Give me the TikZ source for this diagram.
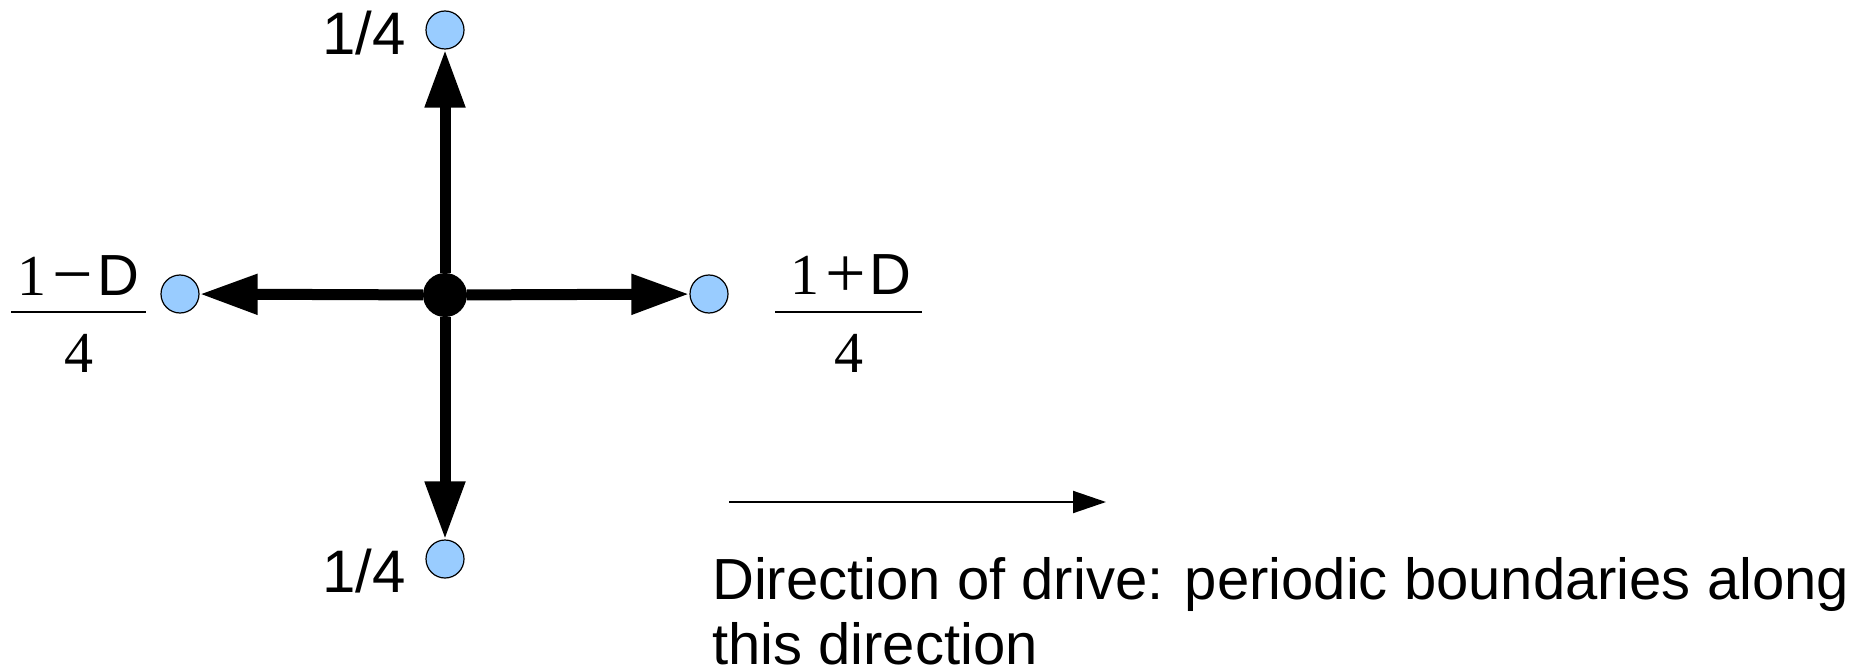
\documentclass[tikz,border=0pt]{standalone}
\usepackage{fontspec}
\setmainfont{Liberation Sans}
\newfontfamily\numfont{Liberation Serif}
\usetikzlibrary{arrows.meta}

\definecolor{siteblue}{HTML}{99CCFF}

% binary operator of the fractions, set a little larger than the digits
\newcommand\fracop[1]{\raisebox{-3pt}{\numfont\fontsize{72}{72}\selectfont #1}}

\begin{document}
\begin{tikzpicture}[x=1pt, y=-1pt,
    site/.style={circle, draw=black, line width=1.2pt, fill=siteblue,
                 minimum size=38pt, inner sep=0pt},
    walker/.style={circle, fill=black, minimum size=44pt, inner sep=0pt},
    hop/.style={line width=11pt, -{Triangle[length=58pt, width=38pt]}},
    lbl/.style={inner sep=0pt, font=\fontsize{60}{72}\selectfont},
    fracpart/.style={inner sep=0pt, font=\fontsize{58}{70}\selectfont},
    fracbar/.style={line width=2.5pt},
  ]
  \useasboundingbox (0,0) rectangle (1873,671);

  % lattice sites and the walker
  \node[walker] (c) at (445,295) {};
  \node[site] (t) at (445,30)  {};
  \node[site] (b) at (445,559) {};
  \node[site] (l) at (180,294) {};
  \node[site] (r) at (709,294) {};

  % hops to the four neighbours
  \draw[hop] (c) -- (t);
  \draw[hop] (c) -- (b);
  \draw[hop] (c) -- (l);
  \draw[hop] (c) -- (r);

  % hopping probabilities
  \node[lbl, anchor=base east] (pt) at (406,55)  {1/4};
  \node[lbl, anchor=base east] (pb) at (406,592) {1/4};

  \node[fracpart, anchor=base] (ln) at (78.5,295)
    {{\numfont 1}\hspace{6pt}\fracop{−}\hspace{4pt}D};
  \coordinate (lb1) at (11,312);
  \coordinate (lb2) at (146,312);
  \draw[fracbar] (lb1) -- (lb2);
  \node[fracpart, anchor=base] (ld) at (78.5,372) {\numfont 4};

  \node[fracpart, anchor=base] (rn) at (851,294)
    {{\numfont 1}\hspace{6pt}\fracop{+}\hspace{4pt}D};
  \coordinate (rb1) at (775,312);
  \coordinate (rb2) at (922,312);
  \draw[fracbar] (rb1) -- (rb2);
  \node[fracpart, anchor=base] (rd) at (848.5,372) {\numfont 4};

  % drive direction
  \coordinate (d1) at (729,502);
  \coordinate (d2) at (1106,502);
  \draw[line width=2pt, -{Triangle[length=33pt, width=22pt]}] (d1) -- (d2);
  \node[inner sep=0pt, anchor=base west, align=left, text depth=0pt,
        font=\fontsize{58}{65}\selectfont] (cap) at (712,664)
    {Direction of drive: periodic boundaries along\\this direction};
\end{tikzpicture}
\end{document}
